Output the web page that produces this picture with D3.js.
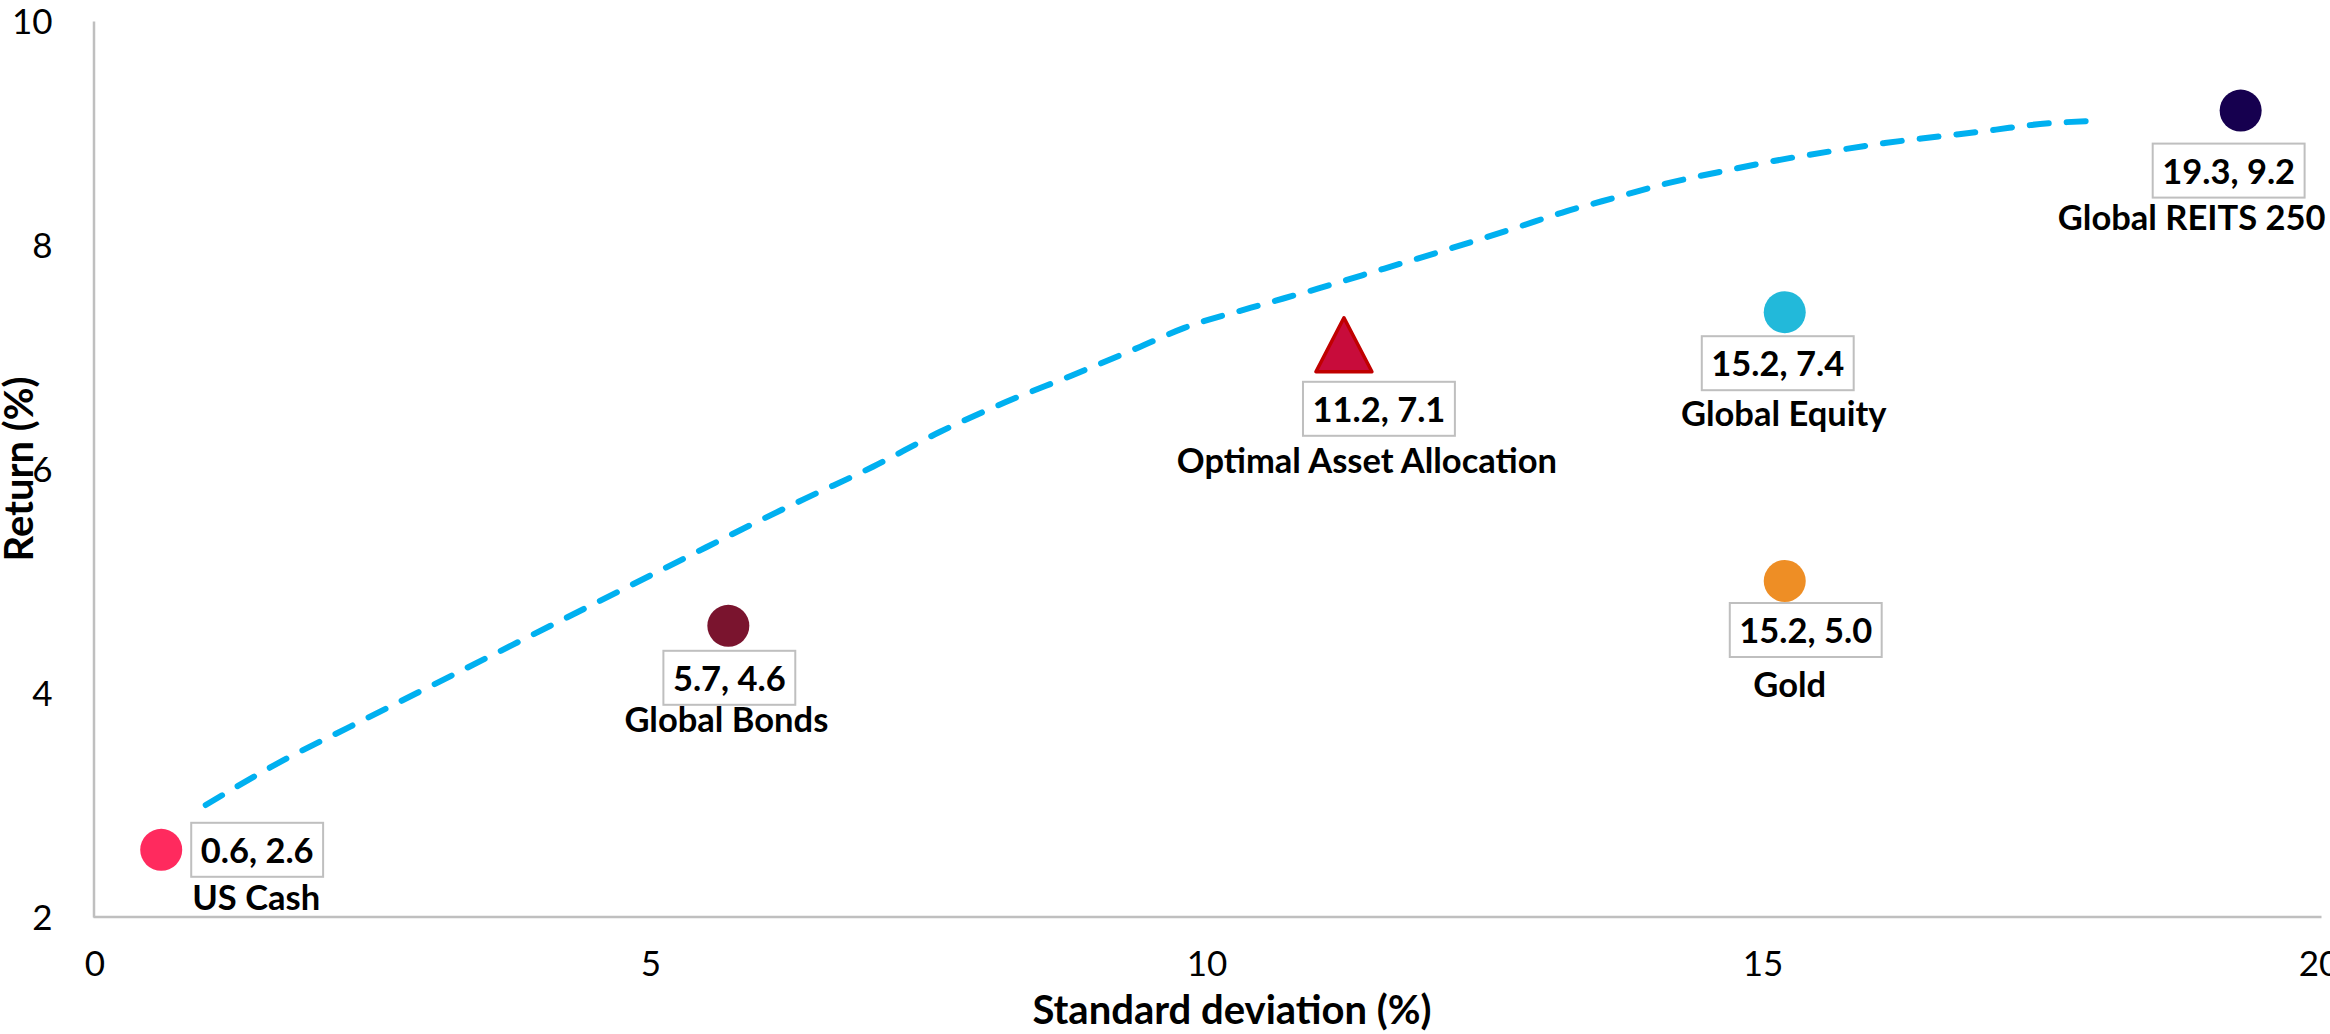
<!DOCTYPE html>
<html>
<head>
<meta charset="utf-8">
<script src="https://cdn.jsdelivr.net/npm/d3@7"></script>
<style>
  html, body { margin: 0; padding: 0; background: #ffffff; }
  svg { display: block; }
  text { font-family: Lato, "Open Sans", sans-serif; fill: #000; }
</style>
</head>
<body>
<svg id="chart" width="2330" height="1034"></svg>
<script>
// Asset classes: risk (standard deviation, %) and return (%)
const assetNames   = ["US Cash", "Global Bonds", "Optimal Asset Allocation", "Global Equity", "Gold", "Global REITS 250"];
const assetSd      = [0.6, 5.7, 11.2, 15.2, 15.2, 19.3];
const assetReturn  = [2.6, 4.6, 7.1, 7.4, 5.0, 9.2];
const assetColors  = ["#FF2A5E", "#7A142E", "#C80C3B", "#22B9DA", "#EE8E25", "#16004F"];
const assetShapes  = ["circle", "circle", "triangle", "circle", "circle", "circle"];

// Efficient frontier (dashed curve)
const frontierSd     = [1.0, 1.7, 2.3, 2.9, 3.5, 4.1, 4.7, 5.3, 5.9, 6.4, 7.0, 7.6, 8.2, 8.8, 9.4, 9.8, 10.4, 11.0, 11.6, 12.1, 12.8, 13.2, 13.7, 14.1, 14.7, 15.1, 15.7, 16.1, 16.6, 17.1, 17.4, 18.0];
const frontierReturn = [3.0, 3.4, 3.7, 4.0, 4.3, 4.6, 4.9, 5.2, 5.5, 5.74, 6.02, 6.33, 6.6, 6.84, 7.09, 7.26, 7.44, 7.61, 7.79, 7.94, 8.16, 8.29, 8.43, 8.54, 8.67, 8.75, 8.85, 8.91, 8.97, 9.03, 9.07, 9.11];

// Axis ticks
const xTicks = [0, 5, 10, 15, 20];
const yTicks = [2, 4, 6, 8, 10];

// Label placement around each marker (pixels): value box and name
const labelLayout = [
  { boxAnchor: "left",   boxDx: 30,  boxDy: -27, nameAnchor: "start",  nameDx: 31,  nameDy: 60 },
  { boxAnchor: "center", boxDx: 1,   boxDy: 25,  nameAnchor: "middle", nameDx: -2,  nameDy: 106 },
  { boxAnchor: "center", boxDx: 39,  boxDy: 36,  nameAnchor: "middle", nameDx: 27,  nameDy: 127 },
  { boxAnchor: "center", boxDx: -7,  boxDy: 24,  nameAnchor: "middle", nameDx: -1,  nameDy: 114 },
  { boxAnchor: "center", boxDx: 21,  boxDy: 22,  nameAnchor: "middle", nameDx: 5,   nameDy: 116 },
  { boxAnchor: "center", boxDx: -12, boxDy: 33,  nameAnchor: "middle", nameDx: -49, nameDy: 119 }
];

const svg = d3.select("#chart");

const x = d3.scaleLinear().domain([0, 20]).range([94.5, 2318.5]);
const y = d3.scaleLinear().domain([2, 10]).range([917, 21]);

const axisColor = "#BFBFBF";

// X axis
const xAxis = svg.append("g")
  .attr("transform", `translate(0,${y(2)})`)
  .call(d3.axisBottom(x).tickValues(xTicks).tickSize(0).tickSizeOuter(0).tickPadding(0));
xAxis.select(".domain").attr("stroke", axisColor).attr("stroke-width", 2.5)
  .attr("d", `M${x(0) - 1},0H${x(20) + 3}`);
xAxis.selectAll(".tick text")
  .attr("y", 0).attr("dy", 0)
  .attr("transform", "translate(0,59)")
  .style("font-family", "Lato, sans-serif").style("font-size", "35px").attr("fill", "#000");

// Y axis
const yAxis = svg.append("g")
  .attr("transform", `translate(${x(0) - 1},0)`)
  .call(d3.axisLeft(y).tickValues(yTicks).tickSize(0).tickSizeOuter(0).tickPadding(0));
yAxis.select(".domain").attr("stroke", axisColor).attr("stroke-width", 2.5);
yAxis.selectAll(".tick text")
  .attr("x", -41).attr("dy", "0.36em")
  .style("font-family", "Lato, sans-serif").style("font-size", "35px").attr("fill", "#000");

// Axis titles
svg.append("text")
  .attr("x", 1232).attr("y", 1024)
  .attr("text-anchor", "middle")
  .style("font-size", "40px").style("font-weight", "bold")
  .text("Standard deviation (%)");

svg.append("text")
  .attr("transform", `translate(33,${469}) rotate(-90)`)
  .attr("text-anchor", "middle")
  .style("font-size", "40px").style("font-weight", "bold")
  .text("Return (%)");

// Efficient frontier
const frontier = frontierSd.map((s, i) => [s, frontierReturn[i]]);
svg.append("path")
  .datum(frontier)
  .attr("fill", "none")
  .attr("stroke", "#00B0F0")
  .attr("stroke-width", 6)
  .attr("stroke-linecap", "round")
  .attr("stroke-dasharray", "19,18")
  .attr("d", d3.line().x(d => x(d[0])).y(d => y(d[1])).curve(d3.curveMonotoneX));

// Assets
const assets = assetNames.map((name, i) => ({
  name, sd: assetSd[i], ret: assetReturn[i], color: assetColors[i], shape: assetShapes[i], layout: labelLayout[i]
}));

const marks = svg.append("g");
assets.forEach(a => {
  const px = x(a.sd), py = y(a.ret);
  if (a.shape === "circle") {
    marks.append("circle").attr("cx", px).attr("cy", py).attr("r", 21).attr("fill", a.color);
  } else {
    marks.append("path")
      .attr("d", `M${px + 4},${py - 28}L${px + 32},${py + 26}L${px - 24},${py + 26}Z`)
      .attr("fill", a.color).attr("stroke", "#C00000").attr("stroke-width", 3.5)
      .attr("stroke-linejoin", "round");
  }
});

// Value boxes and names
const labels = svg.append("g");
assets.forEach(a => {
  const px = x(a.sd), py = y(a.ret), L = a.layout;
  const valueText = `${d3.format(".1f")(a.sd)}, ${d3.format(".1f")(a.ret)}`;
  const g = labels.append("g");
  const rect = g.append("rect").attr("fill", "#fff").attr("stroke", axisColor).attr("stroke-width", 2);
  const t = g.append("text")
    .style("font-size", "34.5px").style("font-weight", "bold")
    .attr("text-anchor", "middle")
    .text(valueText);
  const w = t.node().getComputedTextLength() + 19;
  const h = 54;
  const cx = L.boxAnchor === "left" ? px + L.boxDx + w / 2 : px + L.boxDx;
  const top = py + L.boxDy;
  rect.attr("x", cx - w / 2).attr("y", top).attr("width", w).attr("height", h);
  t.attr("x", cx).attr("y", top + 40);

  labels.append("text")
    .attr("x", px + L.nameDx).attr("y", py + L.nameDy)
    .attr("text-anchor", L.nameAnchor)
    .style("font-size", "34.5px").style("font-weight", "bold")
    .text(a.name);
});
</script>
</body>
</html>
